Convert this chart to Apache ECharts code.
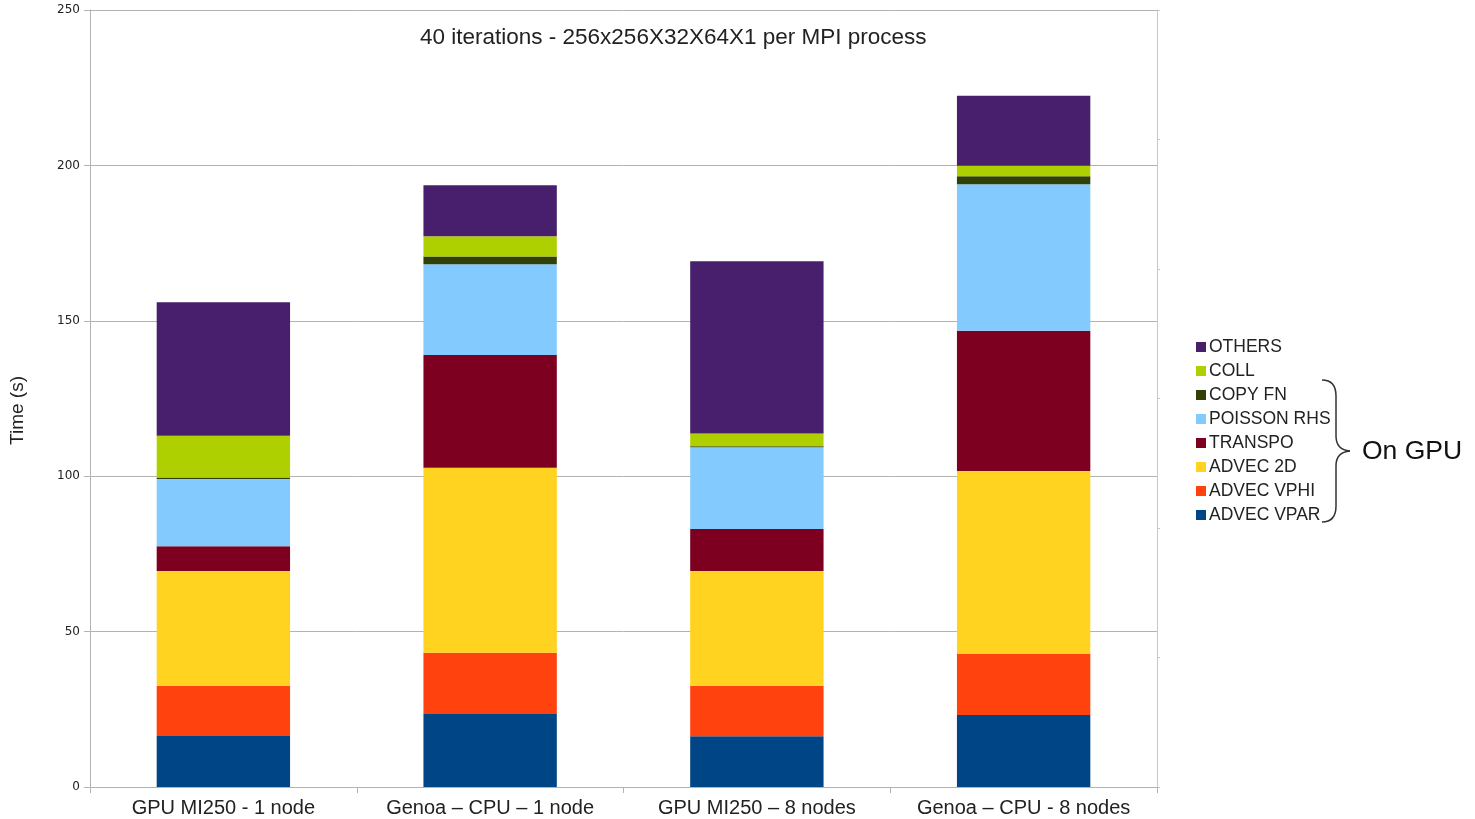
<!DOCTYPE html>
<html>
<head>
<meta charset="utf-8">
<script src="https://cdn.jsdelivr.net/npm/echarts@6/dist/echarts.min.js"></script>
<style>
  html, body { margin: 0; padding: 0; background: #fff; }
  #main { width: 1475px; height: 819px; }
</style>
</head>
<body>
<div id="main"></div>
<script>
// 数据
var categories = ['GPU MI250 - 1 node', 'Genoa \u2013 CPU \u2013 1 node', 'GPU MI250 \u2013 8 nodes', 'Genoa \u2013 CPU - 8 nodes'];
var advecVpar   = [16.4, 23.5, 16.3, 23.2];
var advecVphi   = [16.2, 19.7, 16.3, 19.6];
var advec2d     = [36.9, 59.5, 36.9, 58.9];
var transpo     = [8.0, 36.3, 13.5, 45.1];
var poissonRhs  = [21.6, 29.2, 26.3, 47.1];
var copyFn      = [0.5, 2.5, 0.3, 2.6];
var coll        = [13.4, 6.5, 4.1, 3.4];
var others      = [43.0, 16.4, 55.5, 22.5];
var yTicks = [0, 50, 100, 150, 200, 250];

var seriesDefs = [
	['ADVEC VPAR', advecVpar, '#004586'],
	['ADVEC VPHI', advecVphi, '#ff420e'],
	['ADVEC 2D', advec2d, '#ffd320'],
	['TRANSPO', transpo, '#7e0021'],
	['POISSON RHS', poissonRhs, '#83caff'],
	['COPY FN', copyFn, '#314004'],
	['COLL', coll, '#aecf00'],
	['OTHERS', others, '#481f6c']
];

var myChart = echarts.init(document.getElementById('main'));

var fontFam = '"Liberation Sans", Arial, sans-serif';
var braceStyle = { fill: 'none', stroke: '#333', lineWidth: 1.5 };

option = {
	backgroundColor: '#fff',
	animation: false,
	textStyle: { fontFamily: fontFam },
	title: {
		text: '40 iterations - 256x256X32X64X1 per MPI process',
		left: 415,
		top: 21,
		textStyle: { fontSize: 22.5, fontWeight: 'normal', color: '#222', fontFamily: fontFam }
	},
	legend: {
		orient: 'vertical',
		left: 1191,
		top: 333,
		itemWidth: 10,
		itemHeight: 10,
		itemGap: 6,
		icon: 'rect',
		data: seriesDefs.map(function (s) { return s[0]; }).reverse(),
		textStyle: { fontSize: 17.5, lineHeight: 18, color: '#222', padding: [0, 0, 0, -2] }
	},
	grid: {
		left: 90,
		right: 318,
		top: 10,
		bottom: 32
	},
	xAxis: [{
		type: 'category',
		data: categories,
		axisLine: { lineStyle: { color: '#b3b3b3' } },
		axisTick: { show: true, interval: 0, length: 6, lineStyle: { color: '#b3b3b3' } },
		axisLabel: { interval: 0, fontSize: 20, color: '#222', margin: 11 }
	}],
	yAxis: [{
		type: 'value',
		min: yTicks[0],
		max: yTicks[yTicks.length - 1],
		interval: 50,
		name: 'Time (s)',
		nameLocation: 'middle',
		nameGap: 63,
		nameRotate: 90,
		nameTextStyle: { fontSize: 19, color: '#222', padding: [0, 24, 0, 0] },
		axisLine: { show: true, lineStyle: { color: '#b3b3b3', width: 1 } },
		axisTick: { show: true, length: 6, lineStyle: { color: '#b3b3b3' } },
		axisLabel: { fontSize: 12, color: '#222', margin: 10, fontFamily: '"DejaVu Sans", sans-serif' },
		splitLine: { show: true, lineStyle: { color: '#b3b3b3' } }
	}, {
		type: 'value',
		position: 'right',
		min: 0,
		max: 6,
		interval: 1,
		axisLine: { show: true, lineStyle: { color: '#c8c8c8' } },
		axisTick: { show: true, length: 3, lineStyle: { color: '#c8c8c8' } },
		axisLabel: { show: false },
		splitLine: { show: false }
	}],
	series: seriesDefs.map(function (s) {
		return {
			name: s[0],
			type: 'bar',
			stack: 'total',
			barWidth: '50%',
			data: s[1],
			itemStyle: { color: s[2] }
		};
	}),
	// 右侧大括号 + On GPU
	graphic: [
		{ type: 'bezierCurve', shape: { x1: 1322, y1: 380, cpx1: 1336, cpy1: 380, x2: 1336, y2: 396 }, style: braceStyle },
		{ type: 'line', shape: { x1: 1336, y1: 396, x2: 1336, y2: 436 }, style: braceStyle },
		{ type: 'bezierCurve', shape: { x1: 1336, y1: 436, cpx1: 1336, cpy1: 450, x2: 1350, y2: 451 }, style: braceStyle },
		{ type: 'bezierCurve', shape: { x1: 1350, y1: 451, cpx1: 1336, cpy1: 452, x2: 1336, y2: 466 }, style: braceStyle },
		{ type: 'line', shape: { x1: 1336, y1: 466, x2: 1336, y2: 506 }, style: braceStyle },
		{ type: 'bezierCurve', shape: { x1: 1336, y1: 506, cpx1: 1336, cpy1: 522, x2: 1322, y2: 522 }, style: braceStyle },
		{
			type: 'text',
			left: 1362,
			top: 438,
			style: { text: 'On GPU', fontSize: 26.5, fill: '#111', fontFamily: fontFam }
		}
	]
};

myChart.setOption(option);
window.addEventListener('resize', function () {
	myChart.resize();
});
</script>
</body>
</html>
